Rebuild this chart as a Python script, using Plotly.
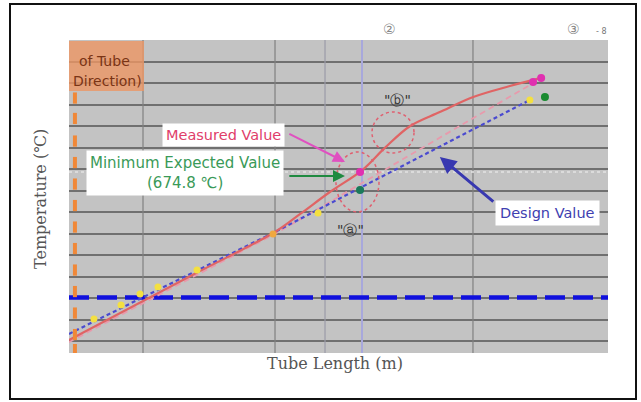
import plotly.graph_objects as go

W, H = 641, 402
L, R, T, B = 69, 608, 40, 353  # plot area in pixels

# ---------------- data (x: tube length, arbitrary 0-100; y: temperature, grid units) -------------
meas_x = [0.0, 23.6, 38.2, 42.9, 48.4, 54.4, 58.6, 63.3, 68.8, 75.0, 81.8, 87.4]
meas_y = [0.05, 3.16, 5.07, 5.91, 6.93, 7.95, 8.98, 10.0, 10.65, 11.35, 11.86, 12.23]

design_x = [0.0, 38.2, 85.5]
design_y = [0.33, 5.07, 11.21]

expect_x = [0.0, 38.2, 86.5]
expect_y = [-0.05, 4.98, 12.05]

yellow_x = [4.64, 9.65, 13.17, 16.51, 23.75, 46.2, 85.5]
yellow_y = [1.02, 1.67, 2.19, 2.51, 3.30, 5.95, 11.21]
orange_x = [37.85]
orange_y = [4.98]

magenta_x = [86.1, 87.6, 54.0]
magenta_y = [12.05, 12.23, 7.86]
green_x = [88.3]
green_y = [11.35]
teal_x = [54.0]
teal_y = [7.02]

design_limit_y = 2.02      # blue dashed horizontal
min_expected_y = 7.86      # 674.8 ℃ line

left_mark_y = [11.3, 10.35, 9.3, 8.3, 7.3, 6.3, 5.3, 4.3, 3.3, 2.3, 1.3, 0.3, -0.4]
left_mark_x = [1.1] * len(left_mark_y)

vgrid_dark = [13.73, 38.22, 74.95]
vgrid_light = [47.5]
vgrid_blue = [54.36]
hgrid = list(range(0, 15))

XR = [0, 100]
YR = [(B - 341) / -21.5, 14.0]


def px(xp):
    return (xp - L) / (R - L)


def py(yp):
    return (B - yp) / (B - T)


fig = go.Figure()

# vertical grid lines
for xv in vgrid_dark:
    fig.add_trace(go.Scatter(x=[xv, xv], y=YR, mode="lines",
                             line=dict(color="#808080", width=1.2), hoverinfo="skip", showlegend=False))
for xv in vgrid_light:
    fig.add_trace(go.Scatter(x=[xv, xv], y=YR, mode="lines",
                             line=dict(color="#9a9aa8", width=1.2), hoverinfo="skip", showlegend=False))
for xv in vgrid_blue:
    fig.add_trace(go.Scatter(x=[xv, xv], y=YR, mode="lines",
                             line=dict(color="#a8a8dc", width=2), hoverinfo="skip", showlegend=False))

# min expected dotted horizontal
fig.add_trace(go.Scatter(x=XR, y=[min_expected_y] * 2, mode="lines",
                         line=dict(color="#e4e4e4", width=1.5, dash="dot"), showlegend=False))

# blue dashed design limit
fig.add_trace(go.Scatter(x=XR, y=[design_limit_y] * 2, mode="lines",
                         line=dict(color="#1010dd", width=4.5, dash="20px,8px"), showlegend=False))

# expected (pink dashed)
fig.add_trace(go.Scatter(x=expect_x, y=expect_y, mode="lines",
                         line=dict(color="#e89aac", width=1.8, dash="6px,4px"), showlegend=False))
# design (blue dotted)
fig.add_trace(go.Scatter(x=design_x, y=design_y, mode="lines",
                         line=dict(color="#4a4ad0", width=2.2, dash="4px,3px"), showlegend=False))
# measured (red solid)
fig.add_trace(go.Scatter(x=meas_x, y=meas_y, mode="lines", line_shape="spline",
                         line=dict(color="#e06464", width=2.2), showlegend=False))

# markers
fig.add_trace(go.Scatter(x=yellow_x, y=yellow_y, mode="markers",
                         marker=dict(color="#f4e040", size=7), showlegend=False))
fig.add_trace(go.Scatter(x=orange_x, y=orange_y, mode="markers",
                         marker=dict(color="#f0a840", size=7), showlegend=False))
fig.add_trace(go.Scatter(x=magenta_x, y=magenta_y, mode="markers",
                         marker=dict(color="#e030b0", size=8), showlegend=False))
fig.add_trace(go.Scatter(x=green_x, y=green_y, mode="markers",
                         marker=dict(color="#1a8a30", size=8), showlegend=False))
fig.add_trace(go.Scatter(x=teal_x, y=teal_y, mode="markers",
                         marker=dict(color="#1a7a5a", size=8), showlegend=False))

# orange left marks
fig.add_trace(go.Scatter(x=left_mark_x, y=left_mark_y, mode="markers",
                         marker=dict(symbol="line-ns", size=8, line=dict(color="#f08838", width=4)),
                         showlegend=False))

annos = []
shapes = []


def label(xp, yp, text, **kw):
    d = dict(x=px(xp), y=py(yp), xref="paper", yref="paper", text=text,
             showarrow=False, xanchor="center", yanchor="middle")
    d.update(kw)
    annos.append(d)


# outer border
shapes.append(dict(type="rect", xref="paper", yref="paper",
                   x0=px(10), x1=px(636), y0=py(399), y1=py(4),
                   line=dict(color="#111", width=2), layer="above"))

# dotted circles
shapes.append(dict(type="circle", xref="paper", yref="paper",
                   x0=px(372), x1=px(414), y0=py(153), y1=py(112),
                   line=dict(color="#e06070", width=1.5, dash="dot")))
shapes.append(dict(type="circle", xref="paper", yref="paper",
                   x0=px(336), x1=px(379), y0=py(212), y1=py(152),
                   line=dict(color="#e06070", width=1.5, dash="dot")))

# orange box top-left
shapes.append(dict(type="rect", xref="paper", yref="paper",
                   x0=px(69), x1=px(144), y0=py(91), y1=py(41),
                   line=dict(width=0), fillcolor="rgba(236,150,100,0.8)", layer="above"))
label(104, 61, "of Tube", font=dict(family="DejaVu Sans", size=14, color="#7a3415"))
label(107, 81, "Direction)", font=dict(family="DejaVu Sans", size=14, color="#7a3415"))

# arrows (data coords)
annos.append(dict(x=51.2, y=8.33, ax=40.6, ay=9.67, xref="x", yref="y", axref="x", ayref="y",
                  text="", showarrow=True, arrowhead=2, arrowsize=1.2, arrowwidth=2, arrowcolor="#e050c0"))
annos.append(dict(x=51.2, y=7.67, ax=40.6, ay=7.67, xref="x", yref="y", axref="x", ayref="y",
                  text="", showarrow=True, arrowhead=2, arrowsize=1.2, arrowwidth=2, arrowcolor="#1f8a40"))
annos.append(dict(x=68.8, y=8.56, ax=79.0, ay=6.42, xref="x", yref="y", axref="x", ayref="y",
                  text="", showarrow=True, arrowhead=2, arrowsize=1.1, arrowwidth=3, arrowcolor="#3838b0"))

# label boxes
label(223, 135, "Measured Value", bgcolor="white", borderpad=3,
      font=dict(family="DejaVu Sans", size=14.5, color="#e0406a"))
label(185, 173, "Minimum Expected Value<br>(674.8 ℃)", bgcolor="white", borderpad=3, align="center",
      font=dict(family="DejaVu Sans", size=15, color="#3a9a58"))
label(547, 213, "Design Value", bgcolor="white", borderpad=4,
      font=dict(family="DejaVu Sans", size=14.5, color="#4040b0"))

# ⓐ ⓑ labels
label(397, 100, "\"ⓑ\"", font=dict(family="DejaVu Sans", size=14, color="#333"))
label(350, 230, "\"ⓐ\"", font=dict(family="DejaVu Sans", size=14, color="#333"))

# top labels
label(389, 29, "②", font=dict(family="DejaVu Sans", size=14, color="#888"))
label(573, 29, "③", font=dict(family="DejaVu Sans", size=14, color="#888"))
label(601, 32, "- 8", font=dict(family="DejaVu Sans", size=8, color="#777"))

# axis titles
label(335, 364, "Tube Length (m)", font=dict(family="DejaVu Serif", size=16, color="#555"))
label(40, 199, "Temperature (℃)", textangle=-90, font=dict(family="DejaVu Serif", size=16, color="#555"))

fig.update_layout(
    width=W, height=H,
    margin=dict(l=L, r=W - R, t=T, b=H - B),
    paper_bgcolor="white", plot_bgcolor="#c3c3c3",
    xaxis=dict(range=XR, showgrid=False, zeroline=False, showticklabels=False, ticks=""),
    yaxis=dict(range=YR, tickvals=hgrid, showgrid=True, gridcolor="#707070", gridwidth=1.6,
               zeroline=False, showticklabels=False, ticks=""),
    annotations=annos, shapes=shapes, showlegend=False,
)

fig.write_html("out.html", config={"displayModeBar": False},
               post_script="document.body.style.margin='0px';")
